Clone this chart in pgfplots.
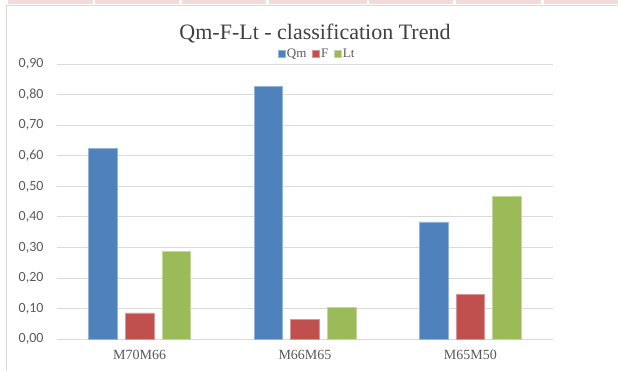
\documentclass[border=0pt]{standalone}
\usepackage{fontspec}
\setmainfont{Liberation Serif}
\newfontfamily\carlito{Carlito}
\usepackage{pgfplots}
\pgfplotsset{compat=1.18}
\usetikzlibrary{calc}
\definecolor{qm}{HTML}{4F81BD}
\definecolor{ff}{HTML}{C0504D}
\definecolor{lt}{HTML}{9BBB59}
\definecolor{gridc}{HTML}{D9D9D9}
\definecolor{txt}{HTML}{595959}
\definecolor{ttl}{HTML}{404040}
\definecolor{pinkc}{HTML}{F2DCDB}
\pgfplotsset{mylegend/.style={legend image code/.code={\fill[##1] (0pt,-3.5pt) rectangle (7pt,3.5pt);}}}
\begin{document}
\begin{tikzpicture}
\begin{axis}[
  scale only axis, width=496pt, height=275.3pt,
  xmin=-0.5, xmax=2.5, ymin=0, ymax=0.9,
  ybar=8.2pt, bar width=28.5pt,
  axis line style={draw=none},
  major tick length=0pt,
  ymajorgrids, grid style={gridc, line width=1pt},
  xtick={0,1,2}, xticklabels={M70M66,M66M65,M65M50},
  ytick={0,0.1,0.2,0.3,0.4,0.5,0.6,0.7,0.8,0.9},
  xticklabel style={font=\fontsize{14}{14}\selectfont, text=txt, yshift=-7.5pt},
  yticklabel style={font=\carlito\fontsize{14}{14}\selectfont, text=txt, xshift=-10pt,
    /pgf/number format/fixed, /pgf/number format/fixed zerofill,
    /pgf/number format/precision=2, /pgf/number format/use comma,
    /pgf/number format/assume math mode=true},
  legend style={at={(0.524,1.036)}, anchor=center, draw=none, fill=none,
    font=\fontsize{13}{13}\selectfont, text=txt,
    /tikz/every even column/.append style={column sep=5pt},
    inner sep=0pt, nodes={inner sep=1pt}},
  legend columns=3,
]
\addplot[fill=qm, draw=qm!60!white, line width=0.6pt, mylegend] coordinates {(0,0.623) (1,0.828) (2,0.384)};
\addplot[fill=ff, draw=ff!60!white, line width=0.6pt, mylegend] coordinates {(0,0.086) (1,0.064) (2,0.146)};
\addplot[fill=lt, draw=lt!60!white, line width=0.6pt, mylegend] coordinates {(0,0.288) (1,0.104) (2,0.467)};
\legend{Qm,F,Lt}
\coordinate (O) at (rel axis cs:0,0);
\end{axis}
\begin{scope}[shift={($(O)+(-57pt,-30.7pt)$)}, x=1pt, y=1pt]
\path[use as bounding box] (0,0) rectangle (618,370);
\foreach \a/\b in {8/92.6, 95.4/179, 182/266, 269/366.6, 369/453, 456/541, 544/618} {\fill[pinkc] (\a,366) rectangle (\b,370);}
\draw[gridc, line width=1pt] (6.5,0) -- (6.5,364) -- (618,364);
\node[anchor=base, font=\fontsize{22}{22}\selectfont, text=ttl] at (315,330.7) {Qm-F-Lt - classification Trend};
\end{scope}
\end{tikzpicture}
\end{document}
